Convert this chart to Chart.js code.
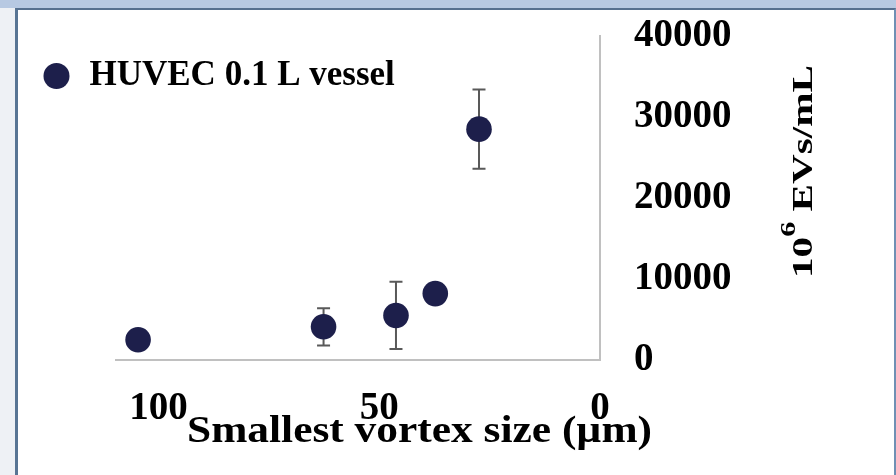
<!DOCTYPE html>
<html>
<head>
<meta charset="utf-8">
<script src="https://cdn.jsdelivr.net/npm/chart.js@4.4.1/dist/chart.umd.min.js"></script>
<style>
  html, body { margin: 0; padding: 0; }
  body { width: 896px; height: 475px; position: relative; overflow: hidden; background: #eef1f5; }
  .top-strip { position: absolute; left: 0; top: 0; width: 896px; height: 8px; background: #b7c9e2; }
  .frame { position: absolute; left: 15px; top: 8px; width: 876px; height: 467px; background: #fff;
           border-left: 3px solid #587594; border-top: 2px solid #56708f; border-right: 2px solid #7090b4; }
  #chart { position: absolute; left: 0; top: 0; }
</style>
</head>
<body>
<div class="top-strip"></div>
<div class="frame"></div>
<canvas id="chart" width="896" height="475"></canvas>
<script>
// data
const seriesLabel = 'HUVEC 0.1 L vessel';
const vortexSize = [104.6, 62.6, 46.2, 37.3, 27.4];   // µm
const evConc = [2500, 4100, 5500, 8200, 28500];       // 10^6 EVs/mL
const evError = [0, 2300, 4150, 0, 4900];
const xTicks = [0, 50, 100];
const yTicks = [0, 10000, 20000, 30000, 40000];
const xTitle = 'Smallest vortex size (µm)';
const yTitleParts = ['10', '6', ' EVs/mL'];

const serif = '"Liberation Serif", "Times New Roman", serif';
const navy = '#1d1f4b';

// vertical error bars, drawn under the markers
const errorBars = {
  id: 'errorBars',
  beforeDatasetsDraw(chart) {
    const { ctx, scales: { x, y } } = chart;
    ctx.save();
    ctx.strokeStyle = '#595959';
    ctx.lineWidth = 2;
    vortexSize.forEach((v, i) => {
      if (!evError[i]) return;
      const px = x.getPixelForValue(v);
      const top = y.getPixelForValue(evConc[i] + evError[i]);
      const bot = y.getPixelForValue(evConc[i] - evError[i]);
      ctx.beginPath();
      ctx.moveTo(px, top); ctx.lineTo(px, bot);
      ctx.moveTo(px - 6.5, top); ctx.lineTo(px + 6.5, top);
      ctx.moveTo(px - 6.5, bot); ctx.lineTo(px + 6.5, bot);
      ctx.stroke();
    });
    ctx.restore();
  }
};

// axis titles (y title reads bottom-up on the right side, with a superscript)
const axisTitles = {
  id: 'axisTitles',
  afterDraw(chart) {
    const { ctx, chartArea: area } = chart;
    ctx.save();
    ctx.fillStyle = '#000';
    ctx.font = 'bold 38px ' + serif;
    ctx.textAlign = 'center';
    ctx.textBaseline = 'alphabetic';
    const w = ctx.measureText(xTitle).width;
    ctx.translate(area.right - 180.5, area.bottom + 82);
    ctx.scale(465 / w, 1);
    ctx.fillText(xTitle, 0, 0);
    ctx.restore();

    ctx.save();
    ctx.fillStyle = '#000';
    ctx.textAlign = 'left';
    ctx.textBaseline = 'alphabetic';
    const big = 'bold 30px ' + serif, small = 'bold 22px ' + serif;
    ctx.font = big;
    const w0 = ctx.measureText(yTitleParts[0]).width;
    const w2 = ctx.measureText(yTitleParts[2]).width;
    ctx.font = small;
    const w1 = ctx.measureText(yTitleParts[1]).width;
    const total = w0 + w1 + w2;
    ctx.translate(area.right + 212, area.top + 135.5);
    ctx.rotate(-Math.PI / 2);
    ctx.scale(213 / total, 1);
    ctx.translate(-total / 2, 0);
    ctx.font = big;
    ctx.fillText(yTitleParts[0], 0, 0);
    ctx.font = small;
    ctx.fillText(yTitleParts[1], w0, -17);
    ctx.font = big;
    ctx.fillText(yTitleParts[2], w0 + w1, 0);
    ctx.restore();
  }
};

// put the legend at the top-left, partly outside the plot area
const legendPlacement = {
  id: 'legendPlacement',
  afterLayout(chart) {
    chart.legend.left = 41;
    chart.legend.top = 58.5;
  }
};

new Chart(document.getElementById('chart'), {
  type: 'scatter',
  data: {
    datasets: [{
      label: seriesLabel,
      data: vortexSize.map((v, i) => ({ x: v, y: evConc[i] })),
      backgroundColor: navy,
      borderWidth: 0,
      pointRadius: 12.8,
      pointHoverRadius: 12.8,
      pointStyle: 'circle'
    }]
  },
  options: {
    responsive: false,
    animation: false,
    events: [],
    layout: { padding: { left: 116, top: 36, right: 0, bottom: 0 } },
    plugins: {
      tooltip: { enabled: false },
      legend: {
        position: 'chartArea',
        align: 'start',
        labels: {
          usePointStyle: true,
          boxWidth: 31,
          boxHeight: 18.4,
          padding: 0,
          color: '#000',
          font: { family: serif, size: 35, weight: 'bold' }
        }
      }
    },
    scales: {
      x: {
        type: 'linear',
        reverse: true,
        min: 0,
        max: 109.6,
        afterBuildTicks: s => { s.ticks = xTicks.map(v => ({ value: v })); },
        afterFit: s => { s.height = 115; s.paddingLeft = 0; s.paddingRight = 0; },
        grid: { display: false, drawTicks: false },
        border: { display: true, color: '#c0c0c0', width: 2 },
        ticks: {
          color: '#000', padding: 26, maxRotation: 0, autoSkip: false,
          font: { family: serif, size: 39, weight: 'bold' },
          callback: v => String(v)
        }
      },
      y: {
        type: 'linear',
        position: 'right',
        min: 0,
        max: 40000,
        afterBuildTicks: s => { s.ticks = yTicks.map(v => ({ value: v })); },
        afterFit: s => { s.width = 296; s.paddingTop = 0; s.paddingBottom = 0; },
        grid: { display: false, drawTicks: false },
        border: { display: true, color: '#c0c0c0', width: 2 },
        ticks: {
          color: '#000', padding: 34, autoSkip: false,
          font: { family: serif, size: 39, weight: 'bold' },
          callback: v => String(v)
        }
      }
    }
  },
  plugins: [errorBars, axisTitles, legendPlacement]
});
</script>
</body>
</html>
